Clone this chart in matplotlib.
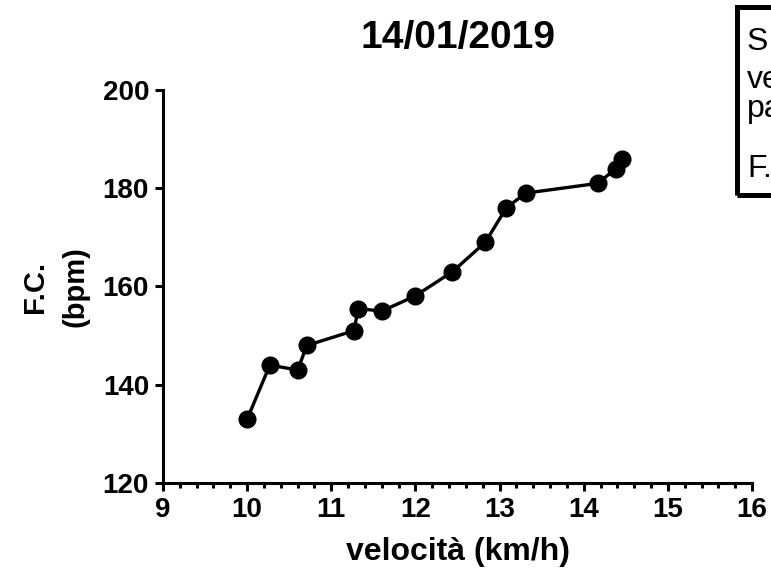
import numpy as np
import matplotlib.pyplot as plt
from matplotlib.patches import Rectangle
from matplotlib.ticker import MultipleLocator

# speed (km/h) vs heart rate (bpm)
velocita = [10.0, 10.27, 10.6, 10.71, 11.27, 11.32, 11.6, 11.99, 12.44,
            12.83, 13.08, 13.31, 14.17, 14.38, 14.46]
fc = [133, 144, 143, 148, 151, 155.5, 155, 158, 163,
      169, 176, 179, 181, 184, 186]

x_ticks = [9, 10, 11, 12, 13, 14, 15, 16]
y_ticks = [120, 140, 160, 180, 200]
box_lines = ["S", "ve", "pa", "F."]

plt.rcParams['font.family'] = ['Liberation Sans', 'DejaVu Sans']

fig = plt.figure(figsize=(7.71, 5.72), dpi=100)
ax = fig.add_axes([0.2114, 0.1556, 0.7640, 0.6871])

ax.plot(velocita, fc, color="black", lw=2.4, marker="o", ms=12,
        mfc="black", mec="black", clip_on=False, zorder=3)

ax.set_xlim(9, 16)
ax.set_ylim(120, 200)
ax.set_xticks(x_ticks)
ax.set_yticks(y_ticks)
ax.xaxis.set_minor_locator(MultipleLocator(0.2))

for side in ["top", "right"]:
    ax.spines[side].set_visible(False)
for side in ["left", "bottom"]:
    ax.spines[side].set_linewidth(2.2)

ax.tick_params(axis="both", which="major", length=6, width=2.2,
               labelsize=20, direction="out")
ax.tick_params(axis="x", which="minor", length=3.5, width=2.2)
ax.tick_params(axis="x", pad=4)
ax.tick_params(axis="y", pad=4)
for lab in ax.get_xticklabels() + ax.get_yticklabels():
    lab.set_fontweight("bold")

ax.set_xlabel("velocità (km/h)", fontsize=23, fontweight="bold", labelpad=10)
ax.set_ylabel("F.C.\n(bpm)", fontsize=21, fontweight="bold",
              linespacing=1.6)
ax.yaxis.set_label_coords(-0.124, 0.5)
ax.set_title("14/01/2019", fontsize=28, fontweight="bold", pad=30)

# boxed note, cut by the right edge of the figure
W, H = 771, 572
fig.patches.append(Rectangle((737 / W, 1 - 195 / H), 100 / W, 188 / H,
                             transform=fig.transFigure, fill=False,
                             lw=3.6, edgecolor="black"))
for txt, base in zip(box_lines, [50, 88, 117, 177]):
    fig.text(747 / W, 1 - base / H, txt, fontsize=23, va="baseline",
             ha="left", color="black")

fig.savefig("out.png", dpi=100)
